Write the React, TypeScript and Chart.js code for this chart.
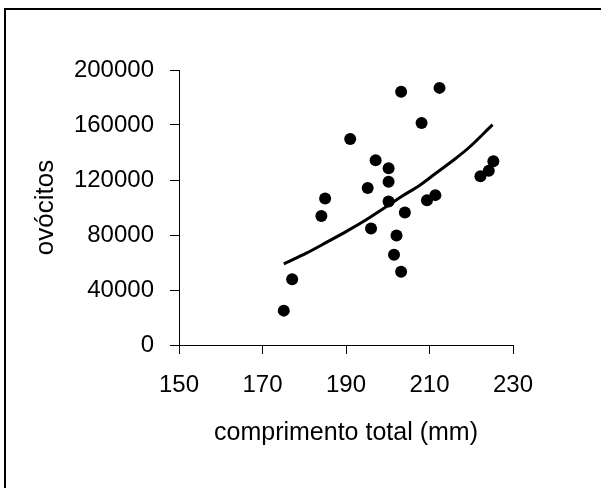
import React, { useEffect, useRef } from "react";
import { Chart, registerables } from "chart.js";

Chart.register(...registerables);

// Observed data: total length (mm) vs oocyte count
const lengthMm = [175.1, 177.1, 184.1, 185.0, 191.0, 195.2, 196.0, 197.1, 200.2, 200.2, 200.2, 201.5, 202.1, 203.2, 203.2, 204.1, 208.1, 209.4, 211.4, 212.4, 222.2, 224.2, 225.3];
const oocytes = [25000, 47900, 93800, 106600, 149900, 114200, 84700, 134300, 128500, 118800, 104400, 65600, 79700, 184100, 53200, 96400, 161500, 105200, 109000, 187000, 122700, 126800, 133600];

// Fitted curve
const trendX = [175.1, 180.5, 185.3, 190.1, 195.7, 200.2, 203.6, 207.6, 211.6, 216.4, 219.6, 225.1];
const trendY = [59000, 66800, 74600, 82600, 92800, 101700, 108600, 116000, 125100, 136000, 144000, 160300];

const xTicks = [150, 170, 190, 210, 230];
const yTicks = [0, 40000, 80000, 120000, 160000, 200000];

const xTitle = "comprimento total (mm)";
const yTitle = "ovócitos";

const FONT = "'Liberation Sans', Arial, Helvetica, sans-serif";

export default function App() {
  const ref = useRef<HTMLCanvasElement | null>(null);

  useEffect(() => {
    document.body.style.margin = "0";
    const canvas = ref.current;
    if (!canvas) return;

    const framePlugin = {
      id: "frame",
      afterDraw(chart: any) {
        const ctx = chart.ctx;
        ctx.save();
        ctx.strokeStyle = "#000";
        ctx.lineWidth = 2;
        ctx.strokeRect(5, 9, 700, 600);
        ctx.restore();
      },
    };

    const chart = new Chart(canvas, {
      type: "scatter",
      data: {
        datasets: [
          {
            type: "line",
            data: trendX.map((x, i) => ({ x, y: trendY[i] })),
            borderColor: "#000",
            borderWidth: 3,
            pointRadius: 0,
            cubicInterpolationMode: "monotone",
            fill: false,
            order: 1,
          } as any,
          {
            type: "scatter",
            data: lengthMm.map((x, i) => ({ x, y: oocytes[i] })),
            backgroundColor: "#000",
            borderColor: "#000",
            pointRadius: 6,
            pointBorderWidth: 0,
            order: 0,
          },
        ],
      },
      options: {
        responsive: false,
        animation: false,
        layout: { padding: { left: 20, top: 70, right: 88, bottom: 0 } },
        plugins: {
          legend: { display: false },
          tooltip: { enabled: false },
        },
        scales: {
          x: {
            type: "linear",
            min: xTicks[0],
            max: xTicks[xTicks.length - 1],
            afterBuildTicks: (scale: any) => {
              scale.ticks = xTicks.map((v) => ({ value: v }));
            },
            afterFit: (scale: any) => {
              scale.height = 143;
            },
            grid: {
              display: true,
              drawOnChartArea: false,
              drawTicks: true,
              tickLength: 9,
              color: "#000",
              lineWidth: 1,
            },
            border: { display: true, color: "#000", width: 1 },
            ticks: {
              padding: 17,
              color: "#000",
              font: { family: FONT, size: 24 },
              maxRotation: 0,
              callback: (v: any) => String(v),
            },
            title: {
              display: true,
              text: xTitle,
              color: "#000",
              font: { family: FONT, size: 25 },
              padding: { top: 0, bottom: 40 },
            },
          },
          y: {
            type: "linear",
            min: yTicks[0],
            max: yTicks[yTicks.length - 1],
            afterBuildTicks: (scale: any) => {
              scale.ticks = yTicks.map((v) => ({ value: v }));
            },
            afterFit: (scale: any) => {
              scale.width = 159;
            },
            grid: {
              display: true,
              drawOnChartArea: false,
              drawTicks: true,
              tickLength: 9,
              color: "#000",
              lineWidth: 1,
            },
            border: { display: true, color: "#000", width: 1 },
            ticks: {
              padding: 16,
              color: "#000",
              font: { family: FONT, size: 24 },
              callback: (v: any) => String(v),
            },
            title: {
              display: true,
              text: yTitle,
              color: "#000",
              font: { family: FONT, size: 26 },
              padding: { top: 10, bottom: 0 },
            },
          },
        },
      },
      plugins: [framePlugin],
    });

    return () => chart.destroy();
  }, []);

  return (
    <div style={{ width: 601, height: 488, background: "#fff" }}>
      <canvas ref={ref} width={601} height={488} style={{ display: "block", width: 601, height: 488 }} />
    </div>
  );
}
